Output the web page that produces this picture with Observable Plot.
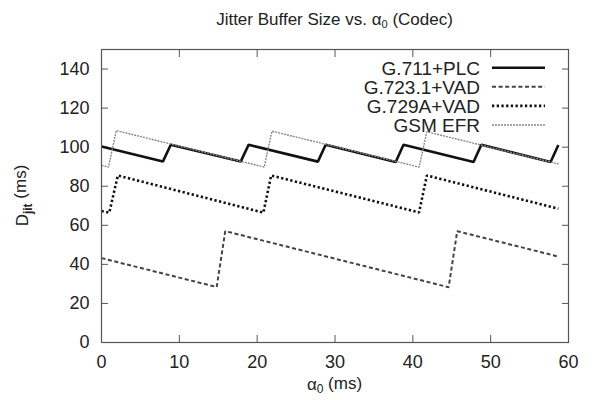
<!DOCTYPE html>
<html><head><meta charset="utf-8">
<script src="https://cdn.jsdelivr.net/npm/d3@7"></script>
<script src="https://cdn.jsdelivr.net/npm/@observablehq/plot@0.6"></script>
<style>
body{margin:0;background:#fff;font-family:"Liberation Sans",Arial,sans-serif;}
#title{width:595px;height:40px;line-height:40px;box-sizing:border-box;padding-left:74px;text-align:center;font-size:17px;color:#222;}
#title sub{font-size:11px;vertical-align:-3px;line-height:0;}
</style></head><body>
<div id="title">Jitter Buffer Size vs. α<sub>0</sub> (Codec)</div>
<div id="chart"></div>
<script>
const seriesNames = ["G.711+PLC", "G.723.1+VAD", "G.729A+VAD", "GSM EFR"];
const g711Alpha = [0, 7.9, 8.9, 17.9, 18.9, 27.8, 28.8, 37.8, 38.8, 47.8, 48.8, 57.7, 58.7];
const g711D     = [100.3, 92.7, 101.2, 92.7, 101.2, 92.6, 101.2, 92.4, 101.2, 92.4, 101.2, 92.4, 101.1];
const g7231Alpha = [0, 14.8, 15.9, 44.6, 45.7, 58.7];
const g7231D     = [43.2, 28.4, 57.0, 28.3, 57.0, 44.0];
const g729Alpha = [0, 1.0, 2.1, 20.8, 21.8, 40.8, 41.8, 58.7];
const g729D     = [67.3, 66.5, 85.5, 66.5, 85.5, 66.6, 85.5, 68.5];
const gsmAlpha = [0, 0.9, 1.9, 20.9, 21.9, 40.8, 41.8, 58.7];
const gsmD     = [90.7, 89.8, 108.5, 89.8, 108.2, 89.8, 107.9, 91.4];
const xTicks = [0, 10, 20, 30, 40, 50, 60];
const yTicks = [0, 20, 40, 60, 80, 100, 120, 140];

const seriesData = [
  [g711Alpha, g711D], [g7231Alpha, g7231D], [g729Alpha, g729D], [gsmAlpha, gsmD]
];
const rows = [];
seriesData.forEach(([xs, ys], i) => xs.forEach((a, j) => rows.push({series: seriesNames[i], alpha: a, d: ys[j]})));

const styles = {
  "G.711+PLC":   {stroke: "#111", strokeWidth: 2.6, strokeDasharray: null},
  "G.723.1+VAD": {stroke: "#444", strokeWidth: 2, strokeDasharray: "4,2.6"},
  "G.729A+VAD":  {stroke: "#111", strokeWidth: 2.6, strokeDasharray: "2.3,2.4"},
  "GSM EFR":     {stroke: "#888", strokeWidth: 1.4, strokeDasharray: "2,1"}
};

const frameColor = "#555";
const chart = Plot.plot({
  width: 595, height: 360,
  marginLeft: 101, marginRight: 27, marginTop: 9, marginBottom: 58,
  style: {fontFamily: "'Liberation Sans', Arial, sans-serif", color: "#222", background: "#fff"},
  x: {domain: [0, 60]},
  y: {domain: [0, 150]},
  marks: [
    Plot.axisX({ticks: xTicks, tickSize: 0, tickPadding: 13, fontSize: 18, label: null}),
    Plot.axisY({ticks: yTicks, tickSize: 0, tickPadding: 12, fontSize: 18, label: null}),
    Plot.axisX({ticks: xTicks, anchor: "bottom", tickSize: -7, fill: "none", stroke: frameColor}),
    Plot.axisX({ticks: xTicks, anchor: "top", tickSize: -7, fill: "none", stroke: frameColor}),
    Plot.axisY({ticks: yTicks, anchor: "left", tickSize: -7, fill: "none", stroke: frameColor}),
    Plot.axisY({ticks: yTicks, anchor: "right", tickSize: -7, fill: "none", stroke: frameColor}),
    ...seriesNames.map(name => Plot.line(rows.filter(r => r.series === name), {
      x: "alpha", y: "d", ...styles[name], strokeLinejoin: "miter", strokeLinecap: "butt"
    })),
    Plot.frame({stroke: frameColor, strokeWidth: 1.2})
  ]
});
document.getElementById("chart").appendChild(chart);

const svg = d3.select(chart);
// y label
const yl = svg.append("text")
  .attr("transform", "translate(28,155.5) rotate(-90)")
  .attr("text-anchor", "middle").attr("font-size", 17).attr("fill", "#222");
yl.append("tspan").text("D");
yl.append("tspan").attr("font-size", 12).attr("dy", "0.35em").attr("font-weight", "bold").text("jit");
yl.append("tspan").attr("dy", "-0.35em").text(" (ms)");
// x label
const xl = svg.append("text")
  .attr("x", 334.5).attr("y", 350)
  .attr("text-anchor", "middle").attr("font-size", 17).attr("fill", "#222");
xl.append("tspan").text("α");
xl.append("tspan").attr("font-size", 12).attr("dy", "0.25em").text("0");
xl.append("tspan").attr("dy", "-0.25em").text(" (ms)");
// legend
seriesNames.forEach((name, i) => {
  const y = 27.7 + i * 19.1;
  svg.append("text").attr("x", 480).attr("y", y).attr("dy", "0.36em")
    .attr("text-anchor", "end").attr("font-size", 19).attr("fill", "#222").text(name);
  const s = styles[name];
  svg.append("line").attr("x1", 492).attr("x2", 545).attr("y1", y).attr("y2", y)
    .attr("stroke", s.stroke).attr("stroke-width", s.strokeWidth)
    .attr("stroke-dasharray", s.strokeDasharray);
});
</script></body></html>
